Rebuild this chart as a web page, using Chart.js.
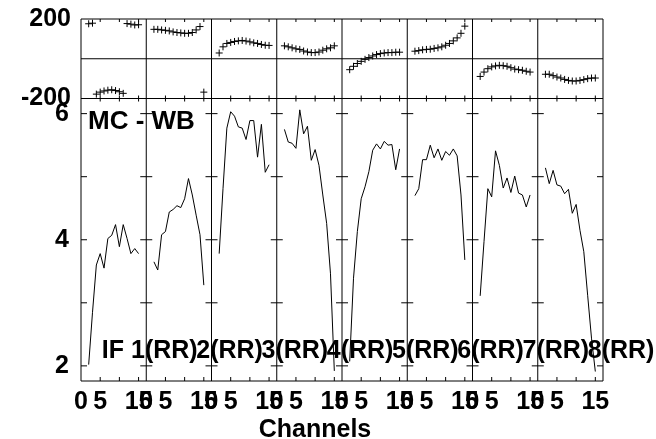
<!DOCTYPE html>
<html>
<head>
<meta charset="utf-8">
<script src="https://cdn.jsdelivr.net/npm/chart.js@4"></script>
<style>
  html, body { margin: 0; padding: 0; background: #fff; }
  #wrap { width: 656px; height: 439px; }
</style>
</head>
<body>
<div id="wrap"><canvas id="possm" width="656" height="439"></canvas></div>
<script>
// Channels plotted in every IF panel
const channels = [2, 3, 4, 5, 6, 7, 8, 9, 10, 11, 12, 13, 14, 15];
const ifNames = ['1', '2', '3', '4', '5', '6', '7', '8'];

// Amplitude per IF
const amp1 = [2.02, 2.85, 3.60, 3.78, 3.55, 4.02, 4.07, 4.24, 3.89, 4.24, 4.02, 3.78, 3.86, 3.78];
const amp2 = [3.65, 3.52, 4.08, 4.13, 4.44, 4.48, 4.54, 4.51, 4.65, 4.97, 4.71, 4.39, 4.08, 3.28];
const amp3 = [3.78, 4.81, 5.77, 6.03, 5.96, 5.79, 5.77, 5.59, 5.89, 5.89, 5.31, 5.83, 5.07, 5.19];
const amp4 = [5.75, 5.55, 5.53, 5.45, 6.06, 5.68, 5.80, 5.26, 5.43, 5.18, 4.71, 4.26, 3.46, 1.92];
const amp5 = [2.07, 3.39, 4.13, 4.65, 4.84, 5.08, 5.42, 5.52, 5.44, 5.56, 5.50, 5.51, 5.11, 5.44];
const amp6 = [4.70, 4.81, 5.27, 5.27, 5.50, 5.30, 5.44, 5.26, 5.40, 5.34, 5.44, 5.33, 4.71, 3.68];
const amp7 = [3.11, 3.97, 4.81, 4.68, 5.41, 5.18, 4.82, 4.98, 4.75, 5.01, 4.74, 4.71, 4.52, 4.71];
const amp8 = [5.14, 4.89, 5.10, 4.87, 4.85, 4.73, 4.80, 4.42, 4.56, 4.15, 3.81, 3.12, 2.44, 1.91];

// Phase per IF (degrees)
const phase1 = [176, 179, -178, -168, -162, -158, -156, -160, -166, -174, 177, 174, 170, 171];
const phase2 = [148, 148, 145, 143, 140, 135, 132, 130, 128, 128, 132, 145, 162, -168];
const phase3 = [29, 60, 77, 82, 87, 90, 92, 89, 85, 80, 77, 72, 68, 67];
const phase4 = [65, 60, 55, 50, 47, 39, 34, 31, 31, 34, 43, 50, 55, 65];
const phase5 = [-55, -38, -24, -13, -3, 6, 14, 21, 26, 29, 31, 31, 33, 33];
const phase6 = [38, 41, 45, 47, 48, 52, 55, 60, 68, 77, 90, 105, 128, 164];
const phase7 = [-89, -67, -50, -41, -36, -33, -35, -38, -45, -52, -55, -58, -63, -67];
const phase8 = [-78, -78, -85, -92, -97, -104, -109, -112, -112, -109, -105, -100, -97, -97];

// Axis ticks
const ampTicks = [2, 4, 6];
const ampMarks = [2, 3, 4, 5, 6];
const phaseTicks = [-200, 200];
const chanTicks = [0, 5, 15];
const chanMarks = [5, 10, 15];

const ampSeries = [amp1, amp2, amp3, amp4, amp5, amp6, amp7, amp8];
const phaseSeries = [phase1, phase2, phase3, phase4, phase5, phase6, phase7, phase8];

Chart.defaults.font.family = "'Liberation Sans', Arial, sans-serif";
Chart.defaults.font.weight = 'bold';
Chart.defaults.color = '#000';

const bigFont = { size: 25, weight: 'bold' };

// keep the edge labels from pushing the plot area around
function fixWidth(s) {
  s.width = 81;
  s.paddingTop = 0; s.paddingBottom = 0;
}
function fixHeight(s) {
  s.height = 58;
  s.paddingLeft = 0; s.paddingRight = 0;
}

// Scales: phase on top, amplitude below, one x axis per IF side by side
const scales = {
  ph: {
    type: 'linear', axis: 'y', position: 'left', stack: 'left', stackWeight: 79.5, weight: 2,
    min: -200, max: 200,
    grid: { display: false, drawTicks: false },
    border: { display: false },
    afterBuildTicks: s => { s.ticks = phaseTicks.map(v => ({ value: v })); },
    afterFit: fixWidth,
    ticks: { autoSkip: false, padding: 10, font: bigFont, callback: v => String(v) }
  },
  amp: {
    type: 'linear', axis: 'y', position: 'left', stack: 'left', stackWeight: 282.5, weight: 1,
    min: 1.76, max: 6.24,
    grid: { display: false, drawTicks: false },
    border: { display: false },
    afterBuildTicks: s => { s.ticks = ampTicks.map(v => ({ value: v })); },
    afterFit: fixWidth,
    ticks: { autoSkip: false, padding: 12, font: bigFont, callback: v => String(v) }
  }
};
ifNames.forEach((n, p) => {
  scales['x' + p] = {
    type: 'linear', position: 'bottom', stack: 'bottom', stackWeight: 1, weight: p,
    min: 0, max: 17,
    grid: { display: false, drawTicks: false },
    border: { display: false },
    afterBuildTicks: s => { s.ticks = chanTicks.map(v => ({ value: v })); },
    afterFit: fixHeight,
    ticks: { autoSkip: false, maxRotation: 0, minRotation: 0, padding: 6, font: bigFont, callback: v => String(v) }
  };
});

const datasets = [];
ampSeries.forEach((vals, p) => {
  datasets.push({
    data: channels.map((c, i) => ({ x: c, y: vals[i] })),
    xAxisID: 'x' + p, yAxisID: 'amp',
    borderColor: '#000', borderWidth: 1, pointRadius: 0, fill: false, tension: 0
  });
});
phaseSeries.forEach((vals, p) => {
  datasets.push({
    data: channels.map((c, i) => ({ x: c, y: vals[i] })),
    xAxisID: 'x' + p, yAxisID: 'ph',
    showLine: false, pointStyle: 'cross', pointRadius: 3.5,
    borderColor: '#000', pointBorderWidth: 1
  });
});

// White page
const background = {
  id: 'background',
  beforeDraw(chart) {
    const ctx = chart.ctx;
    ctx.save();
    ctx.fillStyle = '#fff';
    ctx.fillRect(0, 0, chart.width, chart.height);
    ctx.restore();
  }
};

// Frame, panel dividers, tick marks and labels
const frame = {
  id: 'frame',
  afterDatasetsDraw(chart) {
    const { ctx, chartArea: a, scales: s } = chart;
    const split = s.amp.top;
    const zero = s.ph.getPixelForValue(0);
    ctx.save();
    ctx.strokeStyle = '#000';
    ctx.lineWidth = 1;
    ctx.beginPath();
    ctx.rect(a.left, a.top, a.right - a.left, a.bottom - a.top);
    ctx.moveTo(a.left, split); ctx.lineTo(a.right, split);
    ctx.moveTo(a.left, zero); ctx.lineTo(a.right, zero);
    ifNames.forEach((n, p) => {
      const xs = s['x' + p];
      if (p > 0) { ctx.moveTo(xs.left, a.top); ctx.lineTo(xs.left, a.bottom); }
      chanMarks.forEach(c => {
        const x = xs.getPixelForValue(c);
        ctx.moveTo(x, a.top); ctx.lineTo(x, a.top + 3);
        ctx.moveTo(x, split - 3); ctx.lineTo(x, split + 3);
        ctx.moveTo(x, a.bottom - 4); ctx.lineTo(x, a.bottom);
      });
    });
    ampMarks.forEach(v => {
      const y = s.amp.getPixelForValue(v);
      ctx.moveTo(a.left, y); ctx.lineTo(a.left + 6, y);
      for (let p = 1; p < ifNames.length; p++) {
        const x = s['x' + p].left;
        ctx.moveTo(x - 6, y); ctx.lineTo(x + 6, y);
      }
      ctx.moveTo(a.right - 6, y); ctx.lineTo(a.right, y);
    });
    ctx.stroke();

    ctx.fillStyle = '#000';
    ctx.textBaseline = 'alphabetic';
    ctx.font = "bold 26px 'Liberation Sans', Arial, sans-serif";
    ctx.textAlign = 'left';
    ctx.fillText('MC - WB', a.left + 7, split + 30);

    ctx.font = "bold 25px 'Liberation Sans', Arial, sans-serif";
    ifNames.forEach((n, p) => {
      const x = s['x' + p].left + 50;
      ctx.fillText(n + '(RR)', x, 358);
      if (p === 0) {
        ctx.textAlign = 'right';
        ctx.fillText('IF ', x, 358);
        ctx.textAlign = 'left';
      }
    });
    ctx.textAlign = 'center';
    ctx.fillText('Channels', 315, 437);
    ctx.restore();
  }
};

const possmChart = new Chart(document.getElementById('possm').getContext('2d'), {
  type: 'line',
  data: { datasets: datasets },
  options: {
    responsive: false,
    animation: false,
    events: [],
    layout: { padding: { top: 19, right: 53, left: 0, bottom: 0 } },
    plugins: { legend: { display: false }, tooltip: { enabled: false } },
    scales: scales
  },
  plugins: [background, frame]
});
</script>
</body>
</html>
